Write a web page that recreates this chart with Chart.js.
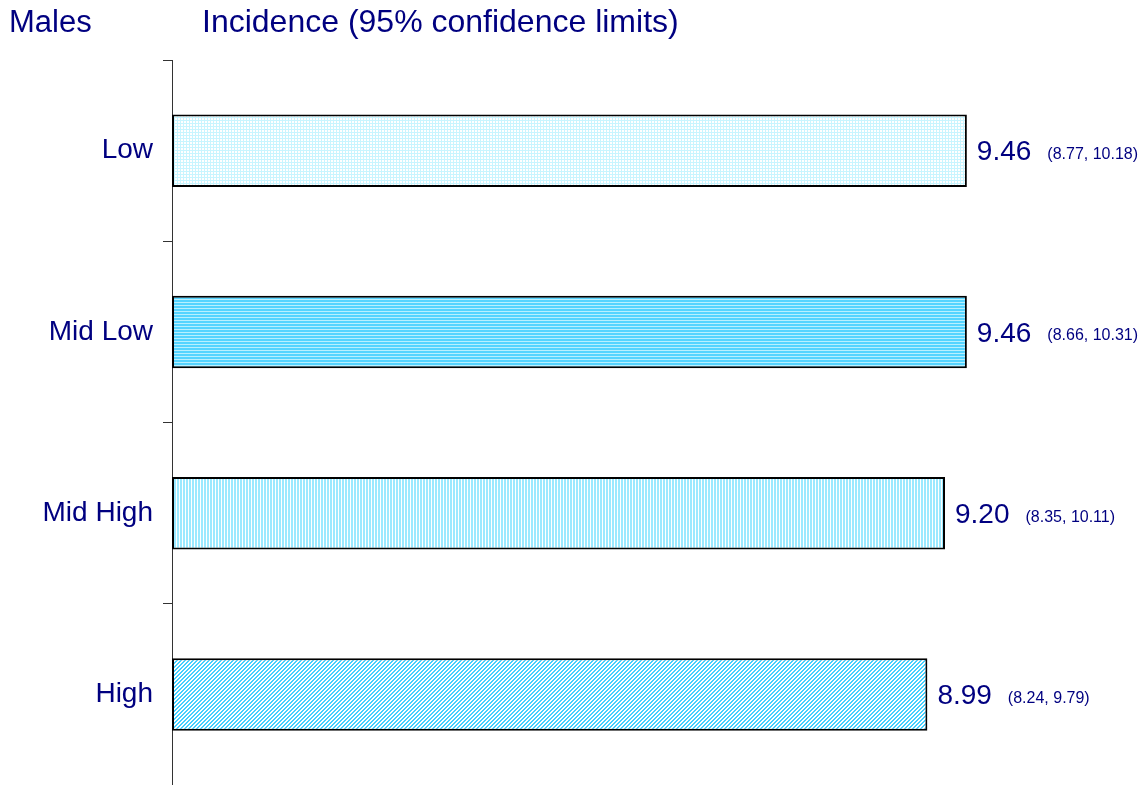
<!DOCTYPE html>
<html>
<head>
<meta charset="utf-8">
<script src="https://cdn.jsdelivr.net/npm/chart.js@4/dist/chart.umd.min.js"></script>
<style>
  html, body { margin: 0; padding: 0; background: #fff; overflow: hidden; }
  #wrap { width: 1145px; height: 785px; position: relative; }
</style>
</head>
<body>
<div id="wrap"><canvas id="myChart" width="1145" height="785"></canvas></div>
<script>
const categories = ["Low", "Mid Low", "Mid High", "High"];
const incidence = [9.46, 9.46, 9.20, 8.99];
const lowerCI = [8.77, 8.66, 8.35, 8.24];
const upperCI = [10.18, 10.31, 10.11, 9.79];

const navy = "#000080";

// small tiles for the hatched fills
function makePattern(size, paint) {
  const c = document.createElement("canvas");
  c.width = size;
  c.height = size;
  const g = c.getContext("2d");
  g.fillStyle = "#ffffff";
  g.fillRect(0, 0, size, size);
  for (let y = 0; y < size; y++) {
    for (let x = 0; x < size; x++) {
      const col = paint(x, y);
      if (col) {
        g.fillStyle = col;
        g.fillRect(x, y, 1, 1);
      }
    }
  }
  return g.createPattern(c, "repeat");
}

const patDots = makePattern(3, (x, y) => (x === 0 || y === 0) ? "#c8f5ff" : null);
const patHoriz = makePattern(3, (x, y) => y < 2 ? "#55d4ff" : "#b8f0ff");
const patVert = makePattern(3, (x, y) => x < 2 ? "#9be9ff" : null);
const patDiag = makePattern(4, (x, y) => ((x + y) % 4) < 2 ? "#44d0ff" : null);

const valueLabels = {
  id: "valueLabels",
  afterDatasetsDraw(chart) {
    const ctx = chart.ctx;
    const meta = chart.getDatasetMeta(0);
    ctx.save();
    ctx.fillStyle = navy;
    ctx.textBaseline = "middle";
    meta.data.forEach((bar, i) => {
      const x = bar.x + 10;
      const y = bar.y + 2;
      ctx.font = "28px 'Liberation Sans', Arial, sans-serif";
      const txt = incidence[i].toFixed(2);
      ctx.fillText(txt, x, y);
      const w = ctx.measureText(txt).width;
      ctx.font = "16px 'Liberation Sans', Arial, sans-serif";
      ctx.fillText("(" + lowerCI[i].toFixed(2) + ", " + upperCI[i].toFixed(2) + ")", x + w + 16, y + 2);
    });
    ctx.restore();
  },
};

const headings = {
  id: "headings",
  afterDraw(chart) {
    const ctx = chart.ctx;
    ctx.save();
    ctx.fillStyle = navy;
    ctx.textBaseline = "middle";
    ctx.font = "31px 'Liberation Sans', Arial, sans-serif";
    ctx.fillText("Males", 9, 23);
    ctx.font = "32px 'Liberation Sans', Arial, sans-serif";
    ctx.fillText("Incidence (95% confidence limits)", 202, 23);
    ctx.restore();
  },
};

const ctx = document.getElementById("myChart").getContext("2d");
const myChart = new Chart(ctx, {
  type: "bar",
  data: {
    labels: categories,
    datasets: [
      {
        data: incidence,
        backgroundColor: [patDots, patHoriz, patVert, patDiag],
        borderColor: "#000000",
        borderWidth: 2,
        borderSkipped: false,
        categoryPercentage: 0.4,
        barPercentage: 1,
      },
    ],
  },
  options: {
    indexAxis: "y",
    responsive: false,
    animation: false,
    layout: { padding: { top: 60, bottom: -2, left: 0, right: 0 } },
    plugins: {
      legend: { display: false },
      tooltip: { enabled: false },
    },
    scales: {
      x: {
        display: false,
        min: 0,
        max: 11.58,
      },
      y: {
        afterFit(scale) {
          scale.width = 172;
          scale.paddingTop = 0;
          scale.paddingBottom = 0;
        },
        grid: {
          offset: true,
          drawOnChartArea: false,
          drawTicks: true,
          tickLength: 9,
          color: "#333333",
        },
        border: { display: true, color: "#333333", width: 1 },
        ticks: {
          color: navy,
          padding: 10,
          font: { family: "'Liberation Sans', Arial, sans-serif", size: 28 },
        },
      },
    },
  },
  plugins: [valueLabels, headings],
});
</script>
</body>
</html>
